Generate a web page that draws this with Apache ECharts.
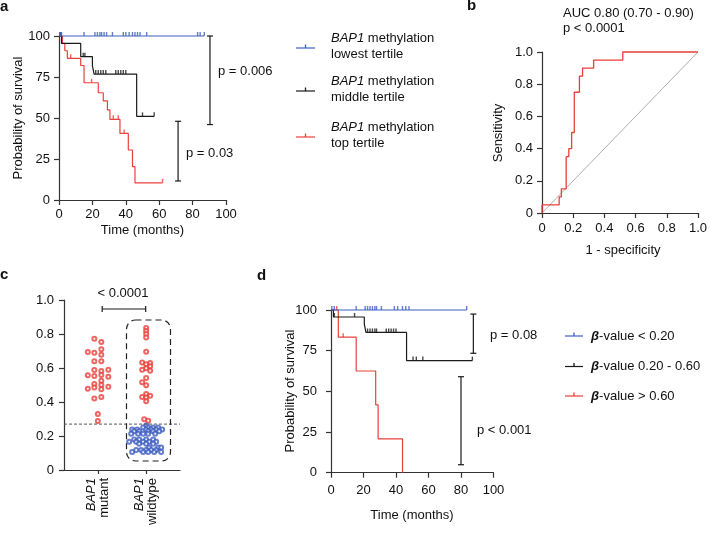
<!DOCTYPE html>
<html><head><meta charset="utf-8">
<script src="https://cdn.jsdelivr.net/npm/echarts@6/dist/echarts.min.js"></script>
<style>html,body{margin:0;padding:0;background:#fff}#c{width:710px;height:533px}</style>
</head><body><div id="c"></div>
<script>
// ---------- DATA ----------
// Panel a: Kaplan-Meier by BAP1 methylation tertile (time in months, survival %)
const aLowTime = [0, 87];
const aLowSurv = [100, 100];
const aLowCens = [0.5, 1, 1.5, 15, 21.5, 23, 24.5, 25.5, 27, 28.5, 32, 38.5, 40, 42, 44, 45.5, 47, 48.5, 52.5, 83, 84.5, 87];
const aMidTime = [0, 1.5, 13, 20, 21, 46.5, 57];
const aMidSurv = [100, 95.5, 87.4, 82, 76.8, 51, 51];
const aMidCens = [1, 14.5, 15.5, 22, 23.5, 25, 26.5, 28, 34, 35.5, 37, 38.5, 40, 50, 57];
const aTopTime = [0, 2, 3.5, 5, 13, 15, 23.5, 26.5, 29, 30.5, 36.5, 41.5, 44, 45.5, 62];
const aTopSurv = [100, 95.5, 91, 86.4, 82, 71.5, 65.4, 60.5, 54.9, 49.2, 40.6, 30.5, 20.3, 10.5, 10.5];
const aTopCens = [0.5, 7, 19.5, 32.5, 35.5, 39, 62];
const aPvals = ['p = 0.006', 'p = 0.03'];
const aLegend = ['lowest tertile', 'middle tertile', 'top tertile'];

// Panel b: ROC curve points
const rocFpr = [0, 0, 0.11, 0.11, 0.124, 0.124, 0.155, 0.155, 0.172, 0.172, 0.19, 0.19, 0.207, 0.207, 0.24, 0.24, 0.26, 0.26, 0.331, 0.331, 0.518, 0.518, 1.0];
const rocTpr = [0, 0.05, 0.05, 0.10, 0.10, 0.15, 0.15, 0.35, 0.35, 0.40, 0.40, 0.50, 0.50, 0.75, 0.75, 0.85, 0.85, 0.90, 0.90, 0.95, 0.95, 1.0, 1.0];
const rocText = ['AUC 0.80 (0.70 - 0.90)', 'p < 0.0001'];

// Panel c: beta values
const cCategories = ['mutant', 'wildtype'];
const cMutantRed = [0.772, 0.753, 0.710, 0.694, 0.690, 0.678, 0.639, 0.639, 0.590, 0.588, 0.582, 0.559, 0.557, 0.553, 0.549, 0.525, 0.506, 0.500, 0.490, 0.486, 0.478, 0.475, 0.429, 0.420, 0.329, 0.288];
const cWildRed = [0.835, 0.818, 0.800, 0.780, 0.696, 0.633, 0.629, 0.622, 0.610, 0.598, 0.590, 0.584, 0.541, 0.516, 0.498, 0.447, 0.437, 0.430, 0.427, 0.404, 0.298, 0.290];
const cWildBlue = [0.262, 0.25, 0.25, 0.25, 0.25, 0.238, 0.238, 0.238, 0.238, 0.238, 0.238, 0.228, 0.228, 0.228, 0.228, 0.228, 0.213, 0.213, 0.213, 0.213, 0.213, 0.18, 0.18, 0.18, 0.18, 0.166, 0.166, 0.166, 0.166, 0.166, 0.155, 0.155, 0.155, 0.133, 0.133, 0.133, 0.118, 0.118, 0.118, 0.118, 0.118, 0.106, 0.106, 0.106, 0.106, 0.106];
const cThreshold = 0.27;
const cPval = '< 0.0001';

// Panel d: Kaplan-Meier by beta-value group
const dLowTime = [0, 83.5];
const dLowSurv = [100, 100];
const dLowCens = [0.5, 2, 15.5, 21, 22.5, 24, 25.5, 27, 28, 31, 39, 41, 44, 46, 48, 83.5];
const dMidTime = [0, 1.5, 20.5, 21.5, 46.5, 87];
const dMidSurv = [100, 95.7, 91.3, 86.2, 68.9, 68.9];
const dMidCens = [2, 14.5, 22.5, 24, 25.5, 27, 28, 34, 35.5, 37, 38.5, 40, 50.5, 52.5, 56.5, 87];
const dTopTime = [0, 4.5, 15.5, 27.5, 29, 44];
const dTopSurv = [100, 83.3, 62.5, 41.7, 20.8, 0];
const dTopCens = [3.5, 7.5];
const dPvals = ['p = 0.08', 'p < 0.001'];
const dLegend = ['< 0.20', '0.20 - 0.60', '> 0.60'];

// ---------- STYLE / LAYOUT ----------
const FONT = '"Liberation Sans", Arial, Helvetica, sans-serif';
const BLUE = '#3f5fc0', BLACK = '#1a1a1a', RED = '#e8403a', AX = '#333';
const cPos = [0.7, 1.7];
const jitMut = [-3.5, 3.5, 3.5, -10, -3.5, 3.5, -3.5, 3.5, 10.5, -3.5, 3.5, 3.5, -10, -3.5, 10.5, 3.5, -3.5, 3.5, 10.5, -3.5, -10, 3.5, 3.5, -3.5, 0, 0];
const jitWildRed = [0, 0, 0, 0, 0, -4, 4, 0, 4, 0, -4, 4, 0, -4, 0, 0, 4, -4, 0, 0, -2, 2];
const jitWildBlue = [0, -3, 2, 7, 12, -14, -9, 0, 5, 10, 16, -12, -7, 2, 7, 13, -15, -8, -3, 2, 9, -12, -7, 0, 7, -17, -10, -3, 3, 10, -7, 0, 7, 3, 12, 15, -10, -5, 0, 5, 10, -14, -3, 2, 8, 15];

function survAt(times, surv, t) { let s = surv[0]; for (let i = 0; i < times.length; i++) if (times[i] <= t) s = surv[i]; return s; }
function km(times, surv, color, g, z) {
  return { type: 'line', step: 'end', xAxisIndex: g, yAxisIndex: g, symbol: 'none', z: z,
    data: times.map((t, i) => [t, surv[i]]), lineStyle: { color: color, width: 1.2 }, clip: false };
}
function cens(ct, times, surv, color, g, z) {
  return { type: 'scatter', xAxisIndex: g, yAxisIndex: g, symbol: 'rect', symbolSize: [1.4, 4], symbolOffset: [0, -2], z: z,
    itemStyle: { color: color }, data: ct.map(t => [t, survAt(times, surv, t)]) };
}
function bracket(pts, g, capSize) {
  return { type: 'line', xAxisIndex: g, yAxisIndex: g, data: pts, symbol: 'rect', symbolSize: capSize, showSymbol: true,
    itemStyle: { color: BLACK }, lineStyle: { color: BLACK, width: 1.2 }, clip: false, z: 5 };
}
function axisBase(extra) {
  return Object.assign({
    type: 'value', splitLine: { show: false },
    axisLine: { show: true, lineStyle: { color: AX, width: 1.2 } },
    axisTick: { show: true, length: 5, lineStyle: { color: AX, width: 1.2 } },
    axisLabel: { color: '#111', fontSize: 13, fontFamily: FONT }
  }, extra);
}
const fmt1 = v => v === 0 ? '0' : v.toFixed(1);

const option = {
  animation: false,
  grid: [
    { left: 59, top: 36, width: 167, height: 164 },
    { left: 542, top: 52, width: 161, height: 161 },
    { left: 64, top: 300, width: 116, height: 170 },
    { left: 331, top: 310, width: 162.5, height: 162.7 }
  ],
  xAxis: [
    axisBase({ gridIndex: 0, min: 0, max: 100, interval: 20, axisLabel: { color: '#111', fontSize: 13, fontFamily: FONT, margin: 8 } }),
    axisBase({ gridIndex: 1, min: 0, max: 1, interval: 0.2, axisLabel: { color: '#111', fontSize: 13, fontFamily: FONT, margin: 9, formatter: fmt1 } }),
    axisBase({ gridIndex: 2, min: 0, max: 2.4,
      axisTick: { show: true, length: 4, customValues: cPos, lineStyle: { color: AX, width: 1.2 } },
      axisLabel: { customValues: cPos, rotate: 90, margin: 8, fontSize: 13, fontFamily: FONT, color: '#111',
        formatter: v => '{i|BAP1}\n' + cCategories[Math.abs(v - cPos[0]) < 0.01 ? 0 : 1],
        rich: { i: { fontStyle: 'italic', fontSize: 13, fontFamily: FONT, color: '#111' } } } }),
    axisBase({ gridIndex: 3, min: 0, max: 100, interval: 20, axisLabel: { color: '#111', fontSize: 13, fontFamily: FONT, margin: 11 } })
  ],
  yAxis: [
    axisBase({ gridIndex: 0, min: 0, max: 100, interval: 25, axisLabel: { color: '#111', fontSize: 13, fontFamily: FONT, margin: 9 } }),
    axisBase({ gridIndex: 1, min: 0, max: 1, interval: 0.2, axisLabel: { color: '#111', fontSize: 13, fontFamily: FONT, margin: 9, formatter: fmt1 } }),
    axisBase({ gridIndex: 2, min: 0, max: 1, interval: 0.2, axisLabel: { color: '#111', fontSize: 13, fontFamily: FONT, margin: 10, formatter: fmt1 } }),
    axisBase({ gridIndex: 3, min: 0, max: 100, interval: 25, axisLabel: { color: '#111', fontSize: 13, fontFamily: FONT, margin: 14 } })
  ],
  series: [
    // panel a
    km(aTopTime, aTopSurv, RED, 0, 2), km(aMidTime, aMidSurv, BLACK, 0, 3), km(aLowTime, aLowSurv, BLUE, 0, 4),
    cens(aTopCens, aTopTime, aTopSurv, RED, 0, 2), cens(aMidCens, aMidTime, aMidSurv, BLACK, 0, 3), cens(aLowCens, aLowTime, aLowSurv, BLUE, 0, 4),
    bracket([[90.4, 100], [90.4, 46]], 0, [6, 1.2]),
    bracket([[71.3, 48], [71.3, 11.6]], 0, [6, 1.2]),
    // panel b
    { type: 'line', xAxisIndex: 1, yAxisIndex: 1, symbol: 'none', data: [[0, 0], [1, 1]], lineStyle: { color: '#999', width: 0.8 } },
    { type: 'line', xAxisIndex: 1, yAxisIndex: 1, symbol: 'none', data: rocFpr.map((f, i) => [f, rocTpr[i]]), lineStyle: { color: RED, width: 1.3 }, clip: false, z: 3 },
    // panel c
    { type: 'line', xAxisIndex: 2, yAxisIndex: 2, symbol: 'none', data: [[0, cThreshold], [2.4, cThreshold]], lineStyle: { color: '#555', width: 1, type: [3, 2] } },
    { type: 'scatter', xAxisIndex: 2, yAxisIndex: 2, symbol: 'emptyCircle', symbolSize: 4, itemStyle: { color: RED, borderWidth: 1 },
      data: cMutantRed.map((v, i) => ({ value: [cPos[0], v], symbolOffset: [jitMut[i], 0] })) },
    { type: 'scatter', xAxisIndex: 2, yAxisIndex: 2, symbol: 'emptyCircle', symbolSize: 4, itemStyle: { color: RED, borderWidth: 1 },
      data: cWildRed.map((v, i) => ({ value: [cPos[1], v], symbolOffset: [jitWildRed[i], 0] })) },
    { type: 'scatter', xAxisIndex: 2, yAxisIndex: 2, symbol: 'emptyCircle', symbolSize: 4, itemStyle: { color: BLUE, borderWidth: 1 },
      data: cWildBlue.map((v, i) => ({ value: [cPos[1], v], symbolOffset: [jitWildBlue[i], 0] })) },
    bracket([[0.79, 0.947], [1.69, 0.947]], 2, [1.2, 6]),
    // panel d
    km(dTopTime, dTopSurv, RED, 3, 2), km(dMidTime, dMidSurv, BLACK, 3, 3), km(dLowTime, dLowSurv, BLUE, 3, 4),
    cens(dTopCens, dTopTime, dTopSurv, RED, 3, 2), cens(dMidCens, dMidTime, dMidSurv, BLACK, 3, 3), cens(dLowCens, dLowTime, dLowSurv, BLUE, 3, 4),
    bracket([[87.6, 97.5], [87.6, 73.4]], 3, [6, 1.2]),
    bracket([[80, 59], [80, 4.9]], 3, [6, 1.2])
  ],
  graphic: []
};

const G = option.graphic;
function txt(x, y, text, opts) {
  G.push({ type: 'text', x: x, y: y, style: Object.assign({ text: text, font: '13px ' + FONT, fill: '#111', textAlign: 'left', textVerticalAlign: 'middle' }, opts || {}) });
}
function vtxt(x, y, text) {
  G.push({ type: 'text', x: x, y: y, rotation: Math.PI / 2, style: { text: text, font: '13px ' + FONT, fill: '#111', textAlign: 'center', textVerticalAlign: 'middle' } });
}
function legItem(x1, x2, y, color) {
  G.push({ type: 'line', shape: { x1: x1, y1: y, x2: x2, y2: y }, style: { stroke: color, lineWidth: 1.2 } });
  const xm = (x1 + x2) / 2;
  G.push({ type: 'line', shape: { x1: xm, y1: y, x2: xm, y2: y - 3.5 }, style: { stroke: color, lineWidth: 1.3 } });
}
// panel letters
txt(0, 7, 'a', { font: 'bold 15px ' + FONT });
txt(467, 6, 'b', { font: 'bold 15px ' + FONT });
txt(0, 275, 'c', { font: 'bold 15px ' + FONT });
txt(257, 276, 'd', { font: 'bold 15px ' + FONT });
// panel a
vtxt(18, 118, 'Probability of survival');
txt(142.5, 230, 'Time (months)', { textAlign: 'center' });
txt(218, 71, aPvals[0]);
txt(186, 153, aPvals[1]);
const aCols = [BLUE, BLACK, RED], aY = [48, 91, 137];
aLegend.forEach((l, i) => {
  legItem(296, 315, aY[i], aCols[i]);
  G.push({ type: 'text', x: 331, y: aY[i] - 2, style: { text: '{i|BAP1} methylation\n' + l, font: '13px ' + FONT, fill: '#111', textAlign: 'left', textVerticalAlign: 'middle', lineHeight: 16,
    rich: { i: { fontStyle: 'italic', fontSize: 13, fontFamily: FONT, fill: '#111' } } } });
});
// panel b
txt(563, 13, rocText[0]);
txt(563, 28, rocText[1]);
vtxt(498, 133, 'Sensitivity');
txt(623, 250, '1 - specificity', { textAlign: 'center' });
// panel c
txt(123, 293, cPval, { textAlign: 'center' });
G.push({ type: 'rect', shape: { x: 126.5, y: 320, width: 44, height: 141, r: 9 }, style: { fill: 'none', stroke: '#222', lineWidth: 1.2, lineDash: [6, 4] }, z: 10 });
// panel d
vtxt(290, 391, 'Probability of survival');
txt(412, 515, 'Time (months)', { textAlign: 'center' });
txt(490, 335, dPvals[0]);
txt(477, 430, dPvals[1]);
const dY = [336, 366.5, 396];
dLegend.forEach((l, i) => {
  legItem(565, 583, dY[i], aCols[i]);
  G.push({ type: 'text', x: 591, y: dY[i], style: { text: '{b|β}-value ' + l, font: '13px ' + FONT, fill: '#111', textAlign: 'left', textVerticalAlign: 'middle',
    rich: { b: { fontStyle: 'italic', fontWeight: 'bold', fontSize: 13, fontFamily: FONT, fill: '#111' } } } });
});

const chart = echarts.init(document.getElementById('c'), null, { renderer: 'canvas' });
chart.setOption(option);
</script>
</body></html>
